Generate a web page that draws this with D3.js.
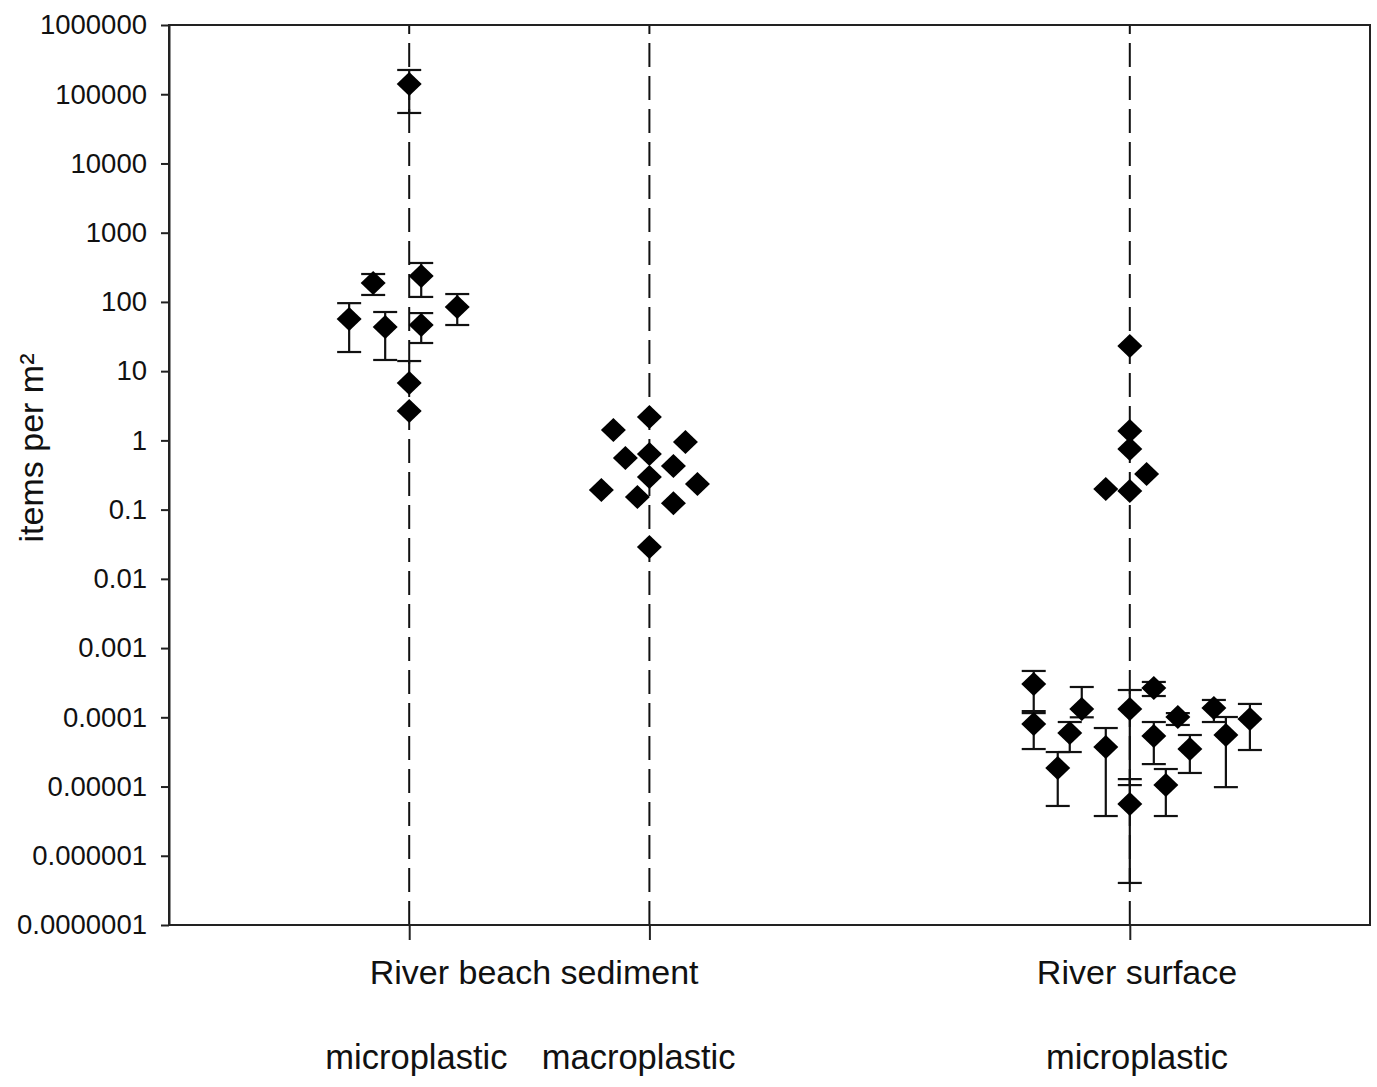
<!DOCTYPE html>
<html>
<head>
<meta charset="utf-8">
<script src="https://cdn.jsdelivr.net/npm/d3@7"></script>
<style>
  html, body { margin: 0; padding: 0; background: #fff; }
  svg { display: block; font-family: Arial, "Liberation Sans", sans-serif; }
</style>
</head>
<body>
<svg id="chart" width="1377" height="1087"></svg>
<script>
// ---- data ----
const tickValues = [1e6, 1e5, 1e4, 1e3, 1e2, 1e1, 1, 0.1, 0.01, 0.001, 1e-4, 1e-5, 1e-6, 1e-7];
const tickLabels = ["1000000", "100000", "10000", "1000", "100", "10", "1", "0.1", "0.01",
                    "0.001", "0.0001", "0.00001", "0.000001", "0.0000001"];
const categoryPositions = [1, 2, 4];
const siteLabels = [{ text: "River beach sediment", x: 1.52 }, { text: "River surface", x: 4.03 }];
const typeLabels = [{ text: "microplastic", x: 1.03 }, { text: "macroplastic", x: 1.955 }, { text: "microplastic", x: 4.03 }];

// beach sediment microplastic: x position, value, lower, upper
const beachMicro = [
  { x: 1.00, v: 140600, lo: 53600, hi: 224000 },
  { x: 0.85, v: 187, lo: 126, hi: 253 },
  { x: 1.05, v: 237, lo: 118, hi: 365 },
  { x: 0.75, v: 56.6, lo: 18.9, hi: 96 },
  { x: 0.90, v: 43.4, lo: 14.5, hi: 71.5 },
  { x: 1.05, v: 46.4, lo: 25.5, hi: 69 },
  { x: 1.20, v: 84.5, lo: 46.4, hi: 130 },
  { x: 1.00, v: 6.74, lo: null, hi: 14 },
  { x: 1.00, v: 2.66, lo: null, hi: null }
];
// beach sediment macroplastic
const beachMacro = [
  { x: 1.85, v: 1.41 }, { x: 2.00, v: 2.18 }, { x: 2.15, v: 0.95 },
  { x: 1.90, v: 0.556 }, { x: 2.00, v: 0.636 }, { x: 2.10, v: 0.427 },
  { x: 2.00, v: 0.296 }, { x: 2.20, v: 0.234 }, { x: 1.80, v: 0.192 },
  { x: 1.95, v: 0.152 }, { x: 2.10, v: 0.124 }, { x: 2.00, v: 0.0288 }
];
// river surface microplastic, high values (no error bars)
const surfaceHigh = [
  { x: 4.00, v: 23.1 }, { x: 4.00, v: 1.37 }, { x: 4.00, v: 0.752 },
  { x: 4.07, v: 0.327 }, { x: 3.90, v: 0.199 }, { x: 4.00, v: 0.186 }
];
// river surface microplastic, low values with error bars
const surfaceLow = [
  { x: 3.60, v: 3.03e-4, lo: 1.23e-4, hi: 4.67e-4 },
  { x: 3.60, v: 8.0e-5, lo: 3.48e-5, hi: 1.15e-4 },
  { x: 3.80, v: 1.32e-4, lo: 1.0e-4, hi: 2.74e-4 },
  { x: 3.75, v: 5.93e-5, lo: 3.15e-5, hi: 8.55e-5 },
  { x: 3.70, v: 1.85e-5, lo: 5.24e-6, hi: 3.15e-5 },
  { x: 3.90, v: 3.72e-5, lo: 3.75e-6, hi: 7.0e-5 },
  { x: 4.00, v: 1.32e-4, lo: 1.05e-5, hi: 2.48e-4 },
  { x: 4.00, v: 5.6e-6, lo: 4.05e-7, hi: 1.28e-5 },
  { x: 4.10, v: 2.65e-4, lo: 2.03e-4, hi: 3.24e-4 },
  { x: 4.10, v: 5.37e-5, lo: 2.11e-5, hi: 8.55e-5 },
  { x: 4.20, v: 1.01e-4, lo: 7.75e-5, hi: 1.15e-4 },
  { x: 4.25, v: 3.48e-5, lo: 1.57e-5, hi: 5.55e-5 },
  { x: 4.15, v: 1.05e-5, lo: 3.75e-6, hi: 1.79e-5 },
  { x: 4.35, v: 1.36e-4, lo: 8.55e-5, hi: 1.78e-4 },
  { x: 4.40, v: 5.55e-5, lo: 9.8e-6, hi: 1.01e-4 },
  { x: 4.50, v: 9.44e-5, lo: 3.37e-5, hi: 1.56e-4 }
];

(function () {
  // ---- layout ----
  const mLeft = 169, mRight = 1370, mTop = 25, mBottom = 925;
  const svg = d3.select("#chart");
  const x = d3.scaleLinear().domain([0, 5]).range([mLeft, mRight]);
  const y = d3.scaleLog().domain([1e-7, 1e6]).range([mBottom, mTop]);
  const ink = "#111";

  // dashed category lines
  svg.append("g").selectAll("line").data(categoryPositions).join("line")
    .attr("x1", d => x(d)).attr("x2", d => x(d))
    .attr("y1", mBottom).attr("y2", mTop)
    .attr("stroke", ink).attr("stroke-width", 2)
    .attr("stroke-dasharray", "24,9");

  // frame
  svg.append("rect").attr("x", mLeft).attr("y", mTop)
    .attr("width", mRight - mLeft).attr("height", mBottom - mTop)
    .attr("fill", "none").attr("stroke", "#222").attr("stroke-width", 2);

  // y axis
  const yAxis = svg.append("g").attr("transform", `translate(${mLeft},0)`)
    .call(d3.axisLeft(y).tickValues(tickValues)
      .tickFormat((d, i) => tickLabels[i]).tickSize(8).tickSizeOuter(0).tickPadding(14));
  yAxis.select(".domain").attr("stroke", "#222").attr("stroke-width", 2);
  yAxis.selectAll(".tick line").attr("stroke", "#222").attr("stroke-width", 2);
  yAxis.selectAll(".tick text").attr("font-size", "27.5px").attr("fill", "#111")
    .attr("font-family", "Arial, 'Liberation Sans', sans-serif");

  // x axis ticks
  const xAxis = svg.append("g").attr("transform", `translate(0,${mBottom})`)
    .call(d3.axisBottom(x).tickValues(categoryPositions).tickFormat("").tickSize(15).tickSizeOuter(0));
  xAxis.select(".domain").remove();
  xAxis.selectAll(".tick line").attr("stroke", "#222").attr("stroke-width", 2);

  // y title
  svg.append("text")
    .attr("transform", `translate(43,448) rotate(-90)`)
    .attr("text-anchor", "middle")
    .attr("font-size", "34px").attr("fill", "#111")
    .text("items per m²");

  // category labels
  svg.append("g").selectAll("text").data(siteLabels).join("text")
    .attr("x", d => x(d.x)).attr("y", 984)
    .attr("text-anchor", "middle").attr("font-size", "34px").attr("fill", "#111")
    .text(d => d.text);
  svg.append("g").selectAll("text").data(typeLabels).join("text")
    .attr("x", d => x(d.x)).attr("y", 1069)
    .attr("text-anchor", "middle").attr("font-size", "34.5px").attr("fill", "#111")
    .text(d => d.text);

  // error bars
  const withErr = beachMicro.concat(surfaceLow);
  const capHalf = 12;
  const eg = svg.append("g").attr("stroke", ink).attr("stroke-width", 2.2);
  withErr.forEach(d => {
    const cx = x(d.x);
    if (d.hi != null) {
      eg.append("line").attr("x1", cx).attr("x2", cx).attr("y1", y(d.v)).attr("y2", y(d.hi));
      eg.append("line").attr("x1", cx - capHalf).attr("x2", cx + capHalf).attr("y1", y(d.hi)).attr("y2", y(d.hi));
    }
    if (d.lo != null) {
      eg.append("line").attr("x1", cx).attr("x2", cx).attr("y1", y(d.v)).attr("y2", y(d.lo));
      eg.append("line").attr("x1", cx - capHalf).attr("x2", cx + capHalf).attr("y1", y(d.lo)).attr("y2", y(d.lo));
    }
  });

  // diamonds
  const allPts = beachMicro.concat(beachMacro, surfaceHigh, surfaceLow);
  svg.append("g").selectAll("path").data(allPts).join("path")
    .attr("transform", d => `translate(${x(d.x)},${y(d.v)})`)
    .attr("d", "M0,-12L12.5,0L0,12L-12.5,0Z")
    .attr("fill", "#000");
})();
</script>
</body>
</html>
